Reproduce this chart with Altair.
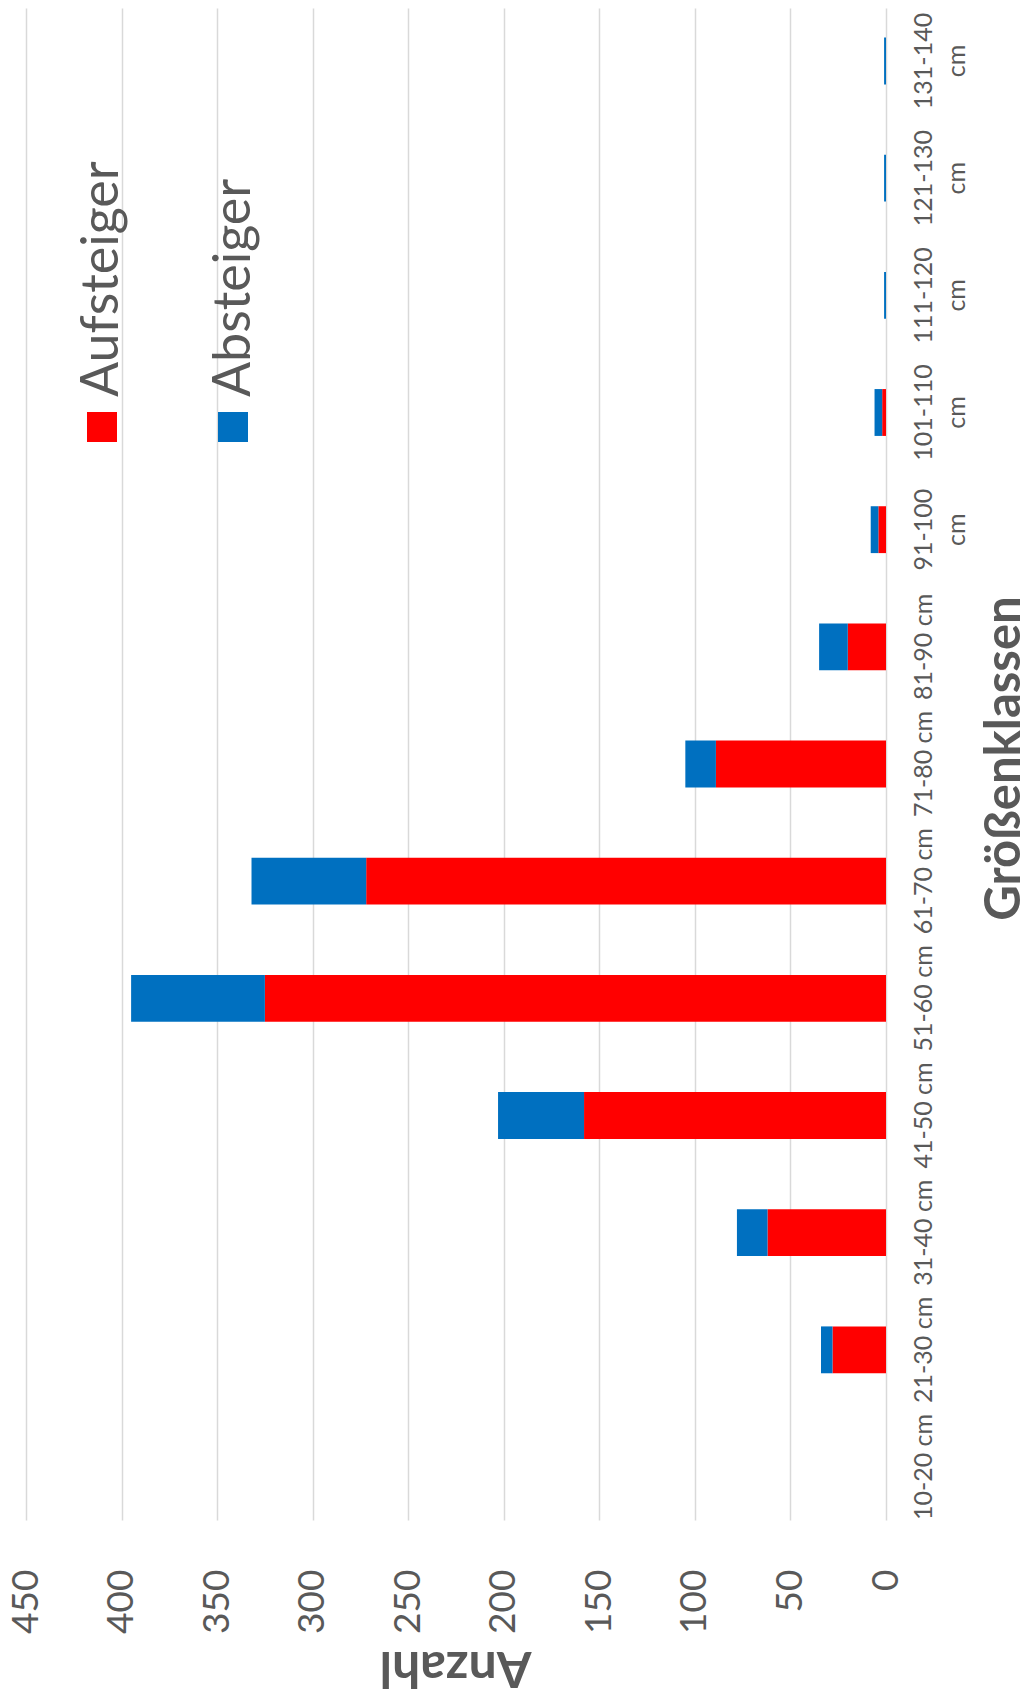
import altair as alt
import pandas as pd

categories = ["10-20 cm", "21-30 cm", "31-40 cm", "41-50 cm", "51-60 cm", "61-70 cm",
              "71-80 cm", "81-90 cm", "91-100 cm", "101-110 cm", "111-120 cm",
              "121-130 cm", "131-140 cm"]
aufsteiger = [0, 28, 62, 158, 325, 272, 89, 20, 4, 2, 0, 0, 0]
absteiger = [0, 6, 16, 45, 70, 60, 16, 15, 4, 4, 1, 1, 1]
series = ["Aufsteiger", "Absteiger"]
colors = ["#FF0000", "#0070C0"]
x_ticks = list(range(0, 451, 50))

rows = []
for i, c in enumerate(categories):
    rows.append({"cat": c, "series": series[0], "idx": 0, "value": aufsteiger[i]})
    rows.append({"cat": c, "series": series[1], "idx": 1, "value": absteiger[i]})
df = pd.DataFrame(rows)

FONT = "Lato"
TXT = "#595959"
color_scale = alt.Scale(domain=series, range=colors)

bars = alt.Chart(df).mark_bar().encode(
    x=alt.X("value:Q", stack="zero",
            scale=alt.Scale(domain=[0, 450], reverse=True, nice=False, zero=True),
            axis=alt.Axis(values=x_ticks, title="Anzahl", grid=True, gridColor="#d9d9d9",
                          gridWidth=1.5, domain=False, ticks=False,
                          labelAngle=270, labelAlign="right", labelBaseline="middle",
                          labelPadding=49, labelFont=FONT, labelFontSize=37,
                          labelColor=TXT, labelFlush=False, labelOverlap=False,
                          titleFont=FONT, titleFontSize=50, titleFontWeight="bold",
                          titleColor=TXT, titleAngle=180, titleAlign="center",
                          titleBaseline="alphabetic", titleX=429, titleY=131)),
    y=alt.Y("cat:N", sort=categories[::-1],
            scale=alt.Scale(paddingInner=0.6, paddingOuter=0.2523),
            axis=alt.Axis(orient="right", title="Größenklassen", grid=False,
                          domain=False, ticks=False, labelAngle=270,
                          labelAlign="center", labelBaseline="top", labelPadding=25,
                          labelFont=FONT, labelFontSize=25, labelColor=TXT,
                          labelLineHeight=33, labelOverlap=False, labelLimit=0,
                          labelExpr="length(datum.label) > 8 ? split(datum.label, ' ') : datum.label",
                          titleFont=FONT, titleFontSize=49, titleFontWeight="bold",
                          titleColor=TXT, titleAngle=270, titleAlign="center",
                          titleBaseline="alphabetic", titleX=133, titleY=750)),
    color=alt.Color("series:N", scale=color_scale, legend=None),
    order=alt.Order("idx:Q"),
)

layers = [bars]
for i, s in enumerate(series):
    d = alt.Data(values=[{"name": s}])
    sq = alt.Chart(d).mark_square(size=900, opacity=1).encode(
        x=alt.value(76 + i * 131), y=alt.value(419),
        color=alt.Color("name:N", scale=color_scale, legend=None))
    tx = alt.Chart(d).mark_text(angle=270, align="left", baseline="alphabetic",
                                font=FONT, fontSize=52, color=TXT).encode(
        x=alt.value(92 + i * 132), y=alt.value(389), text="name:N")
    layers += [sq, tx]

chart = alt.layer(*layers).properties(
    width=860, height=1512,
    autosize=alt.AutoSizeParams(type="none"),
    padding={"left": 18, "top": 0, "right": 137, "bottom": 175},
).configure_view(stroke=None)

chart.save("out.html", embed_options={"renderer": "svg", "actions": False})
